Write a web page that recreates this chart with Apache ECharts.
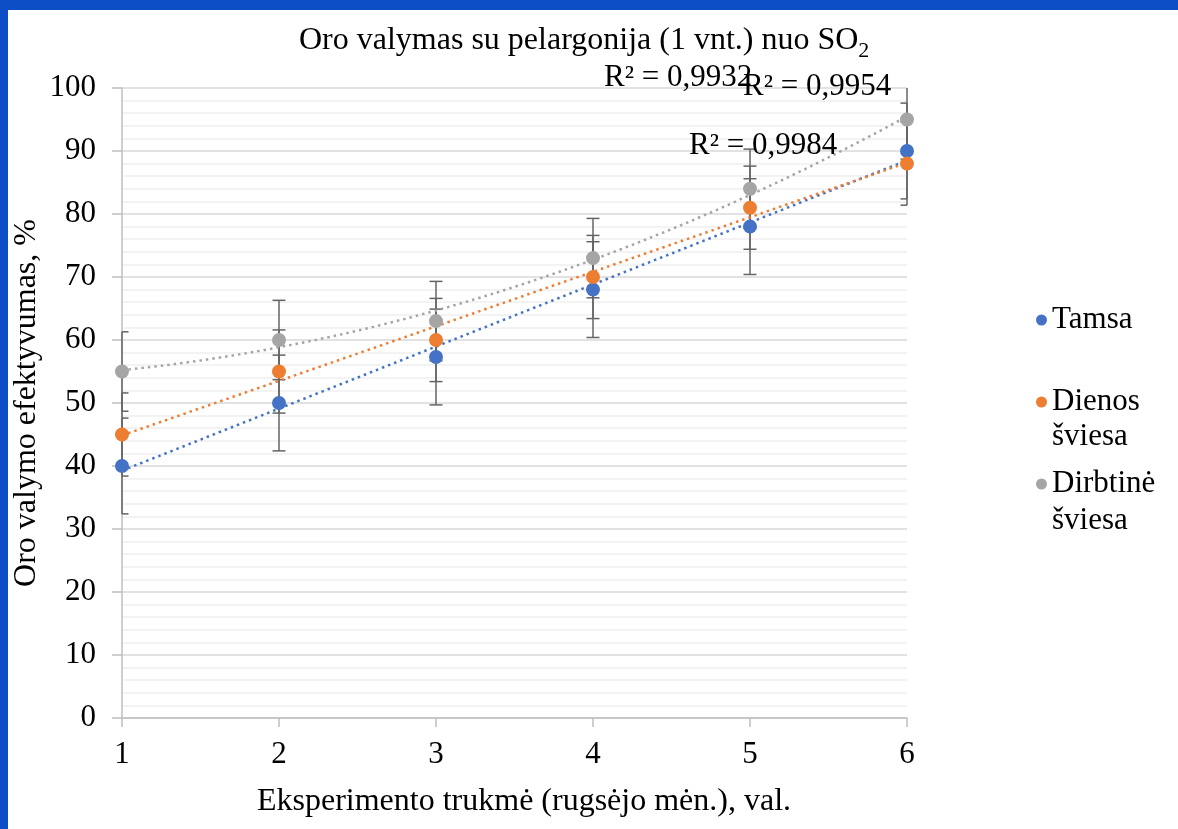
<!DOCTYPE html>
<html><head><meta charset="utf-8">
<script src="https://cdn.jsdelivr.net/npm/echarts@6/dist/echarts.min.js"></script>
<style>html,body{margin:0;padding:0;background:#fff}#c{width:1178px;height:829px}</style>
</head><body><div id="c"></div>
<script>
// ---- data ----
const xValues = [1, 2, 3, 4, 5, 6];
const tamsa = [40, 50, 57.3, 68, 78, 90];
const dienos = [45, 55, 60, 70, 81, 88];
const dirbtine = [55, 60, 63, 73, 84, 95];
const seriesNames = ['Tamsa', 'Dienos šviesa', 'Dirbtinė šviesa'];
const errTamsa = 7.6, errDienos = 6.6, errDirbtine = 6.3;   // standard-error bars
const r2Labels = ['R² = 0,9932', 'R² = 0,9954', 'R² = 0,9984'];
const titleText = 'Oro valymas su pelargonija (1 vnt.) nuo SO';
const xName = 'Eksperimento trukmė (rugsėjo mėn.), val.';
const yName = 'Oro valymo efektyvumas, %';

const colors = ['#4472C4', '#ED7D31', '#A5A5A5'];
const serif = '"Liberation Serif", "Times New Roman", serif';

// ---- least-squares fits (trendlines as in the original) ----
function linearFit(xs, ys) {
  const n = xs.length, mx = xs.reduce((a, b) => a + b) / n, my = ys.reduce((a, b) => a + b) / n;
  let sxy = 0, sxx = 0;
  for (let i = 0; i < n; i++) { sxy += (xs[i] - mx) * (ys[i] - my); sxx += (xs[i] - mx) ** 2; }
  const b = sxy / sxx; const a = my - b * mx;
  return x => a + b * x;
}
function poly2Fit(xs, ys) {
  const n = xs.length; let S = [0, 0, 0, 0, 0], T = [0, 0, 0];
  for (let i = 0; i < n; i++) { for (let k = 0; k < 5; k++) S[k] += xs[i] ** k; for (let k = 0; k < 3; k++) T[k] += ys[i] * xs[i] ** k; }
  const M = [[S[0], S[1], S[2], T[0]], [S[1], S[2], S[3], T[1]], [S[2], S[3], S[4], T[2]]];
  for (let i = 0; i < 3; i++) { for (let j = i + 1; j < 3; j++) { const f = M[j][i] / M[i][i]; for (let k = i; k < 4; k++) M[j][k] -= f * M[i][k]; } }
  const c = [0, 0, 0];
  for (let i = 2; i >= 0; i--) { let s = M[i][3]; for (let k = i + 1; k < 3; k++) s -= M[i][k] * c[k]; c[i] = s / M[i][i]; }
  return x => c[0] + c[1] * x + c[2] * x * x;
}
function sample(fn) { const out = []; for (let x = 1; x <= 6.0001; x += 0.05) out.push([x, fn(x)]); return out; }

const valueSets = [tamsa, dienos, dirbtine];
const errs = [errTamsa, errDienos, errDirbtine];
const fits = [linearFit(xValues, tamsa), linearFit(xValues, dienos), poly2Fit(xValues, dirbtine)];

function errRender(params, api) {
  const cs = params.coordSys;
  const x = api.value(0), v = api.value(1), e = api.value(2);
  const hiV = v + e, loV = v - e;
  const top = api.coord([x, Math.min(hiV, 100)]);
  const bot = api.coord([x, Math.max(loV, 0)]);
  const hw = 6.5;
  const l = Math.max(top[0] - hw, cs.x), r = Math.min(top[0] + hw, cs.x + cs.width);
  const style = { stroke: '#646464', lineWidth: 1.5 };
  const ch = [{ type: 'line', shape: { x1: top[0], y1: top[1], x2: bot[0], y2: bot[1] }, style }];
  if (hiV <= 100) ch.push({ type: 'line', shape: { x1: l, y1: top[1], x2: r, y2: top[1] }, style });
  if (loV >= 0) ch.push({ type: 'line', shape: { x1: l, y1: bot[1], x2: r, y2: bot[1] }, style });
  return { type: 'group', children: ch };
}

const series = [];
valueSets.forEach((vals, i) => {
  series.push({
    type: 'custom', name: seriesNames[i] + ' err', renderItem: errRender, silent: true, z: 1,
    data: xValues.map((x, j) => [x, vals[j], errs[i]])
  });
});
valueSets.forEach((vals, i) => {
  series.push({
    type: 'line', name: seriesNames[i] + ' trend', data: sample(fits[i]), showSymbol: false, symbol: 'none', silent: true, z: 2,
    lineStyle: { color: colors[i], width: 2.5, type: [2.5, 4], cap: 'butt' }
  });
});
valueSets.forEach((vals, i) => {
  series.push({
    type: 'scatter', name: seriesNames[i], data: xValues.map((x, j) => [x, vals[j]]), symbol: 'circle', symbolSize: 14, z: 3,
    itemStyle: { color: colors[i], opacity: 1 }
  });
});

const chart = echarts.init(document.getElementById('c'), null, { renderer: 'canvas' });
chart.setOption({
  backgroundColor: '#ffffff',
  animation: false,
  color: colors,
  grid: { left: 122, right: 271, top: 88, bottom: 111, containLabel: false },
  xAxis: {
    type: 'value', min: 1, max: 6, interval: 1,
    name: xName, nameLocation: 'middle', nameGap: 68,
    nameTextStyle: { fontFamily: serif, fontSize: 32, color: '#000', padding: [0, 0, 0, 19] },
    axisLine: { show: true, lineStyle: { color: '#bfbfbf', width: 1.5 } },
    axisTick: { show: true, length: 9, lineStyle: { color: '#bfbfbf', width: 1.5 } },
    axisLabel: { fontFamily: serif, fontSize: 31, color: '#000', margin: 21 },
    splitLine: { show: false }
  },
  yAxis: {
    type: 'value', min: 0, max: 100, interval: 10,
    name: yName, nameLocation: 'middle', nameGap: 79, nameRotate: 90, nameMoveOverlap: false,
    nameTextStyle: { fontFamily: serif, fontSize: 32, color: '#000' },
    axisLine: { show: true, lineStyle: { color: '#bfbfbf', width: 1.5 } },
    axisTick: { show: true, length: 10, lineStyle: { color: '#bfbfbf', width: 1.5 } },
    axisLabel: { fontFamily: serif, fontSize: 31, color: '#000', margin: 26 },
    splitLine: { show: true, lineStyle: { color: '#d9d9d9', width: 1.5 } },
    minorTick: { show: false, splitNumber: 5 },
    minorSplitLine: { show: true, lineStyle: { color: '#efefef', width: 1.5 } }
  },
  legend: {
    data: seriesNames, orient: 'vertical', left: 1031, top: 298, itemGap: 48,
    icon: 'circle', itemWidth: 11, itemHeight: 11, itemStyle: { borderWidth: 0 },
    formatter: n => n.split(' ')[0],
    textStyle: { fontFamily: serif, fontSize: 31, color: '#000', lineHeight: 34 },
    selectedMode: false
  },
  graphic: [
    { type: 'rect', shape: { x: 0, y: 0, width: 1178, height: 10 }, style: { fill: '#0b4ec6' }, z: 100 },
    { type: 'rect', shape: { x: 0, y: 0, width: 8, height: 829 }, style: { fill: '#0b4ec6' }, z: 100 },
    { type: 'text', left: 299, top: 25, z: 50, style: {
        text: '{t|' + titleText + '}{s|2}',
        rich: { t: { fontFamily: serif, fontSize: 32, fill: '#000', lineHeight: 42 },
                s: { fontFamily: serif, fontSize: 22, fill: '#000', lineHeight: 42, verticalAlign: 'bottom' } } } },
    { type: 'text', x: 604, y: 78, z: 50, style: { text: r2Labels[0], fontFamily: serif, fontSize: 31, fill: '#000', verticalAlign: 'middle' } },
    { type: 'text', x: 743, y: 87, z: 51, style: { text: r2Labels[1], fontFamily: serif, fontSize: 31, fill: '#000', verticalAlign: 'middle' } },
    { type: 'text', x: 689, y: 146, z: 50, style: { text: r2Labels[2], fontFamily: serif, fontSize: 31, fill: '#000', verticalAlign: 'middle' } },
    { type: 'text', x: 1052, y: 437, z: 50, style: { text: 'šviesa', fontFamily: serif, fontSize: 31, fill: '#000', verticalAlign: 'middle' } },
    { type: 'text', x: 1052, y: 521, z: 50, style: { text: 'šviesa', fontFamily: serif, fontSize: 31, fill: '#000', verticalAlign: 'middle' } }
  ],
  series: series
});
</script></body></html>
